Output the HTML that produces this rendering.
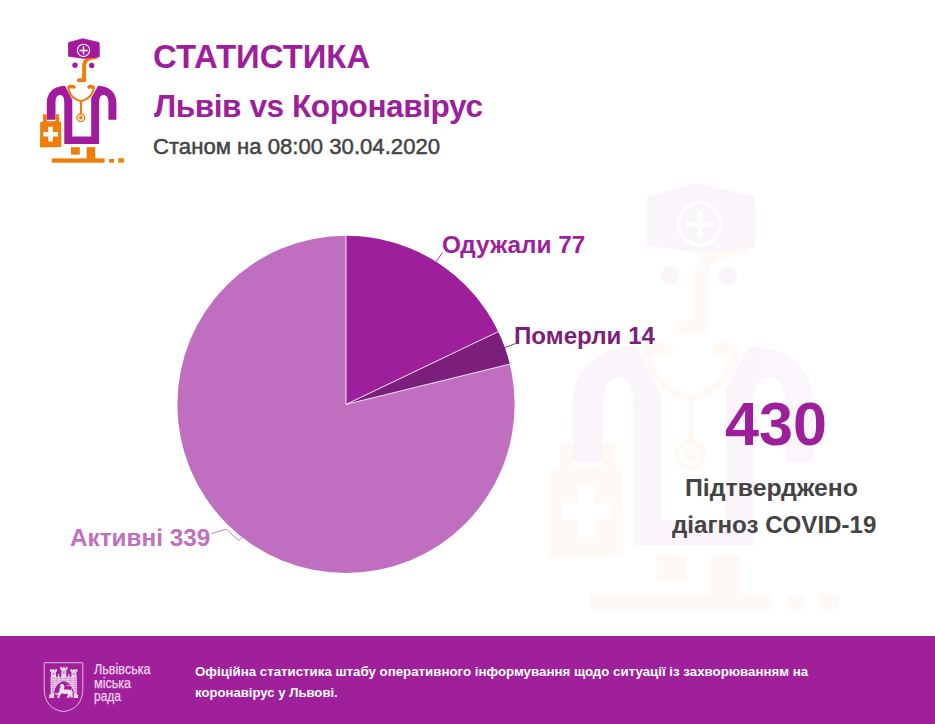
<!DOCTYPE html>
<html lang="uk">
<head>
<meta charset="utf-8">
<title>Статистика Львів vs Коронавірус</title>
<style>
  html, body { margin: 0; padding: 0; }
  body {
    width: 935px; height: 724px; overflow: hidden; position: relative;
    background: #ffffff;
    font-family: "Liberation Sans", sans-serif;
  }
  .t { position: absolute; white-space: nowrap; line-height: 1; margin: 0; transform-origin: 0 0; }
  .b { font-weight: bold; }
  #h1 { left: 152.7px; top: 39.7px; font-size: 33px; color: #9e1f9c; transform: scaleX(0.996); }
  #h2 { left: 153.7px; top: 89.6px; font-size: 32px; color: #9e1f9c; letter-spacing: -0.45px; transform: scaleX(0.988); }
  #h3 { left: 152.6px; top: 135.8px; font-size: 22px; color: #444444; transform: scaleX(1.006); -webkit-text-stroke: 0.5px #444444; }
  #l1 { left: 441.9px; top: 233.5px; font-size: 23.5px; color: #9e1f9c; transform: scaleX(1.036); }
  #l2 { left: 514.3px; top: 324.6px; font-size: 23.5px; color: #7c1e7c; transform: scaleX(1.028); }
  #l3 { left: 70px; top: 526.6px; font-size: 23.5px; color: #c06fc0; transform: scaleX(1.034); }
  #big { left: 724.6px; top: 393.5px; font-size: 61px; color: #9e1f9c; transform: scaleX(1.001); }
  #c1 { left: 684.8px; top: 475.6px; font-size: 24px; color: #444444; transform: scaleX(1.035); }
  #c2 { left: 671.6px; top: 512.5px; font-size: 24px; color: #444444; transform: scaleX(1.005); }
  #footer { position: absolute; left: 0; top: 636px; width: 935px; height: 88px; background: #a0209c; }
  #f1 { left: 194.6px; top: 664.5px; font-size: 13.5px; color: #ffffff; transform: scaleX(0.984); }
  #f2 { left: 194.6px; top: 686.1px; font-size: 13.5px; color: #ffffff; transform: scaleX(0.973); }
  #g1, #g2, #g3 { font-size: 15px; color: #efd6ef; transform: scaleX(0.84); -webkit-text-stroke: 0.25px #efd6ef; }
  #g1 { left: 94.2px; top: 660.9px; }
  #g2 { left: 94.2px; top: 674.6px; }
  #g3 { left: 94.4px; top: 687.9px; transform: scaleX(0.80); }
  svg { position: absolute; left: 0; top: 0; }
</style>
</head>
<body>

<svg id="art" width="935" height="724" viewBox="0 0 935 724">
  <defs>
    <g id="doc">
      <!-- nose (under hat) -->
      <path d="M95.3 57.3 C88.5 57.8 84.1 59.4 84.1 66 V80.3 H78.9" fill="none" stroke="#ee7d0a" stroke-width="4" stroke-linecap="round" stroke-linejoin="round"/>
      <!-- hat -->
      <path fill="#a11b9c" stroke="#a11b9c" stroke-width="0.8" stroke-linejoin="round" d="M68.5 42.6 L82.8 38.7 L99 42.6 C99.5 47 99.5 52 99.2 56.9 L83 58.3 L68.5 56.2 Z"/>
      <circle cx="83.5" cy="50.3" r="6.1" fill="none" stroke="#fff" stroke-width="1.05"/>
      <path d="M83.5 46.3 V54.5 M79.4 50.4 H87.7" stroke="#fff" stroke-width="1.5" fill="none"/>
      <!-- eyes -->
      <circle cx="75" cy="65.2" r="2.65" fill="#a11b9c"/>
      <circle cx="91.7" cy="65.4" r="2.65" fill="#a11b9c"/>
      <!-- body -->
      <path fill="#a11b9c" d="M65 85.8 C53 86.5 46.8 93 46.8 103 V119.8 H55.5 V103 C55.5 97 57.7 95 60 95 C62.5 95 64.3 97 64.3 103 V144 H99.1 V103 C99.1 97 101 95 103.5 95 C106 95 108.4 97 108.4 103 V119.8 H116.4 V103 C116.4 93 110 86.5 98.1 85.8 L91.2 98 V136.6 H72.3 V100 Z"/>
      <!-- stethoscope -->
      <path d="M68.3 87 C68 91 71 98.5 81 101.2 C91 98.5 94.2 91 93.9 87 M81 101.2 V117" fill="none" stroke="#ee7d0a" stroke-width="2.1" stroke-linecap="round" stroke-linejoin="round"/>
      <path d="M69.2 87.2 C70 86 72 86.6 74 87 M92.8 87.2 C92 86 90 86.6 89 87" fill="none" stroke="#ee7d0a" stroke-width="3.6" stroke-linecap="round"/>
      <circle cx="80.8" cy="117.8" r="3.9" fill="#fdf0e0" stroke="#ee7d0a" stroke-width="1.2"/>
      <circle cx="80.8" cy="117.6" r="1.8" fill="#ee7d0a"/>
      <!-- bag -->
      <path fill="#ee7d0a" d="M43 114.2 H46.8 V121.2 H55.5 V114.2 H59.2 V121.6 L61.2 122 L61.4 147 L40 147.6 L40.2 122 L43 121.6 Z"/>
      <path d="M50.6 126.8 V141.6 M43.4 134.2 H58" stroke="#fff" stroke-width="4.6" fill="none"/>
      <!-- feet & ground -->
      <rect x="71" y="147.2" width="8.8" height="7.4" fill="#ee7d0a"/>
      <rect x="86.6" y="147.2" width="8.7" height="12" fill="#ee7d0a"/>
      <rect x="51.8" y="158.4" width="52.8" height="4.3" fill="#ee7d0a"/>
      <rect x="109" y="159" width="5" height="3.7" fill="#ee7d0a"/>
      <rect x="118.3" y="158.2" width="5.6" height="4.5" fill="#ee7d0a"/>
    </g>
  </defs>

  <!-- watermark -->
  <use href="#doc" transform="translate(411.5 51.8) scale(3.45 3.425)" opacity="0.04"/>
  <!-- small icon -->
  <use href="#doc"/>

  <!-- pie -->
  <g id="pie">
    <circle cx="346" cy="404.4" r="168.65" fill="#c06fc0"/>
    <path d="M346 404.4 L346.0 235.75 A168.65 168.65 0 0 1 498.18 331.7 Z" fill="#9e1f9c"/>
    <path d="M346 404.4 L498.18 331.7 A168.65 168.65 0 0 1 509.77 364.13 Z" fill="#7c1e7c"/>
    <path d="M346.0 235.75 L346 404.4 L509.77 364.13 M346 404.4 L498.18 331.7" fill="none" stroke="#ffffff" stroke-width="1" stroke-opacity="0.85"/>
    <path d="M435.95 261.74 L442.5 252.6" fill="none" stroke="#9e1f9c" stroke-width="0.9"/>
    <path d="M504.8 347.62 L515.3 343.6" fill="none" stroke="#7c1e7c" stroke-width="0.9"/>
    <path d="M211.3 533.6 L226.3 529.2 L239 540.5 L241.95 537.13" fill="none" stroke="#c06fc0" stroke-width="0.9"/>
  </g>
</svg>

<div class="t b" id="h1">СТАТИСТИКА</div>
<div class="t b" id="h2">Львів vs Коронавірус</div>
<div class="t" id="h3">Станом на 08:00 30.04.2020</div>

<div class="t b" id="l1">Одужали 77</div>
<div class="t b" id="l2">Померли 14</div>
<div class="t b" id="l3">Активні 339</div>

<div class="t b" id="big">430</div>
<div class="t b" id="c1">Підтверджено</div>
<div class="t b" id="c2">діагноз COVID-19</div>

<div id="footer"></div>
<svg id="logo" width="935" height="724" viewBox="0 0 935 724">
  <path d="M45 662.7 H82 Q82.8 662.7 82.8 663.5 V689 C82.8 700.5 77 710 63.5 711.6 C50 710 44.2 700.5 44.2 689 V663.5 Q44.2 662.7 45 662.7 Z" fill="none" stroke="#e3b9e2" stroke-width="1"/>
  <g fill="#f3e1f3" fill-opacity="0.92">
    <!-- towers -->
    <path d="M50 668.9 h1.5 v1.2 h1.2 v-1.2 h1.6 v1.2 h1.2 v-1.2 h1.5 v2.9 h-1 v5.2 h-5 v-5.2 h-1 Z"/>
    <path d="M60.2 666.8 h1.6 v1.2 h1.2 v-1.2 h1.6 v1.2 h1.2 v-1.2 h1.6 v2.9 h-1.1 v7.3 h-5 v-7.3 h-1.1 Z"/>
    <path d="M70.4 668.9 h1.5 v1.2 h1.2 v-1.2 h1.6 v1.2 h1.2 v-1.2 h1.5 v2.9 h-1 v5.2 h-5 v-5.2 h-1 Z"/>
    <path d="M57.9 674.6 l0.6 -1 l0.6 1 v2.4 h-1.2 Z M68.3 674.6 l0.6 -1 l0.6 1 v2.4 h-1.2 Z"/>
    <!-- wall with arch -->
    <path fill-rule="evenodd" d="M50.6 676.8 H76.9 V694.4 H78 V698 H73.7 V692.3 C73 686.5 69 682.3 63.8 680.9 C58.5 682.3 54.9 686.5 54.2 692.3 V698 H49.2 V694.4 H50.6 Z"/>
    <!-- lion -->
    <path fill-opacity="1" d="M60.5 684.4 C62.5 683.3 64.6 684.5 64.4 686.5 C64.3 687.8 63.6 688.6 64 689.6 C66.5 689.3 69.5 689.3 71.5 690.3 C73.2 691.3 72.8 693.2 72.4 694.6 L72.9 697.6 H70.8 L70.3 695.3 L69.3 697.7 H66.3 L67.9 695.6 L67.4 693.6 C65.4 694.1 63.4 693.9 61.9 693.3 L59.4 696.3 L59.9 697.7 H56.9 L58.4 694.4 L56.4 695.1 L54.6 693.6 L55.4 692.9 L57.4 693.4 L59.4 691.4 C59.4 689.4 59.9 688.1 60.6 687.1 C59.9 686.1 59.9 685.1 60.5 684.4 Z"/>
    <path fill="none" stroke="#f3e1f3" stroke-width="0.8" d="M70.8 690.2 C73 688.6 72.5 686.2 70.2 685.7 C68.6 685.5 67.2 686 66.5 685.3"/>
  </g>
  <g stroke="#a0209c" stroke-width="0.45" stroke-opacity="0.55" fill="none">
    <path d="M50.6 678.6 H76.9 M50.6 680.6 H76.9 M50.6 682.6 H60 M68 682.6 H76.9 M50.6 684.6 H57.5 M70.3 684.6 H76.9 M50.6 686.6 H56 M71.8 686.6 H76.9 M50.6 688.6 H55 M72.8 688.6 H76.9 M50.6 690.6 H54.4 M73.4 690.6 H76.9 M50.6 692.6 H54.2 M73.7 692.6 H76.9"/>
    <path d="M53 676.8 V694 M75 676.8 V694 M57 676.8 V683 M61 676.8 V681 M66 676.8 V681 M70.5 676.8 V683 M51.2 673.3 H55.8 M61.3 671.3 H66.3 M61.3 673.6 H66.3 M71.4 673.3 H76"/>
  </g>
  <g fill="#a0209c" fill-opacity="0.8">
    <rect x="53" y="673.6" width="1" height="1.4"/><rect x="63.3" y="671.6" width="1" height="1.6"/><rect x="73.2" y="673.6" width="1" height="1.4"/>
  </g>
</svg>
<div class="t" id="g1">Львівська</div>
<div class="t" id="g2">міська</div>
<div class="t" id="g3">рада</div>
<div class="t b" id="f1">Офіційна статистика штабу оперативного інформування щодо ситуації із захворюванням на</div>
<div class="t b" id="f2">коронавірус у Львові.</div>

</body>
</html>
